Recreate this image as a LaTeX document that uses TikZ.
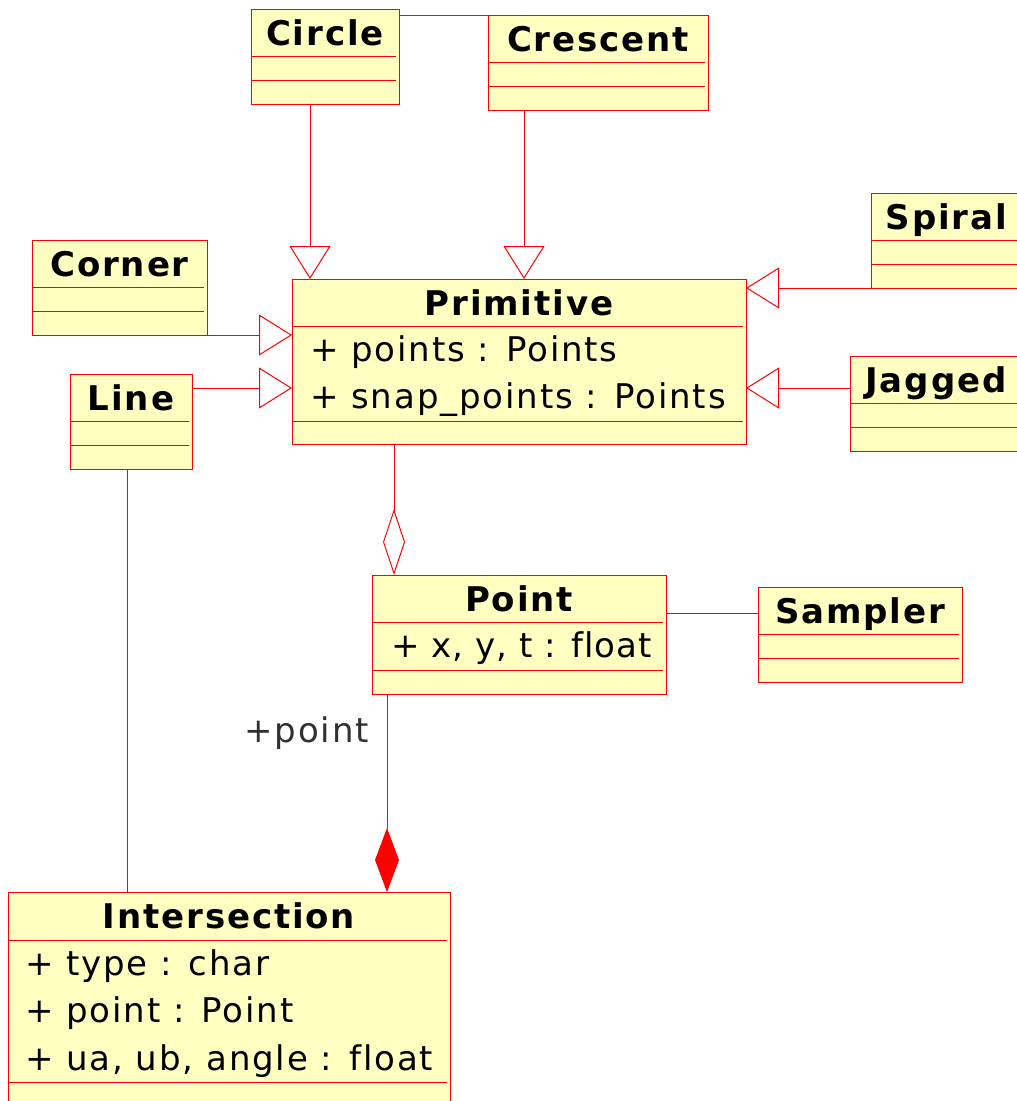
\documentclass[tikz,border=0pt]{standalone}
\usepackage{fontspec}
\setmainfont{DejaVu Sans}[LetterSpace=5.5, Ligatures=NoCommon]
\usetikzlibrary{arrows.meta,calc}

\definecolor{umlfill}{RGB}{255,255,194}
\definecolor{umlline}{RGB}{255,0,0}
\definecolor{labelgray}{RGB}{48,48,48}

\tikzset{
  classbox/.style={draw=umlline, fill=umlfill, line width=1pt, inner sep=0pt,
                   outer sep=0pt, anchor=north west},
  ctitle/.style={font=\fontsize{34}{40}\selectfont\bfseries, inner sep=0pt, anchor=base},
  cattr/.style={font=\fontsize{34}{40}\selectfont, inner sep=0pt, anchor=base west},
  rolelabel/.style={font=\fontsize{34}{40}\selectfont, text=labelgray, inner sep=0pt, anchor=base east},
  sepline/.style={draw=umlline, line width=1pt},
  rel/.style={draw=umlline, line width=1pt},
  inherit/.style={rel, -{Triangle[open, length=33pt, width=41pt]}},
  aggreg/.style={rel, -{Diamond[open, length=66pt, width=22pt]}},
  compos/.style={rel, -{Diamond[fill=umlline, length=64pt, width=24pt]}},
}

% class with empty attribute and operation compartments
\newcommand\emptyclass[5]{%
  \node[classbox, minimum width=#4pt, minimum height=95pt] (#1) at (#2,#3) {};
  \node[ctitle] (#1-title) at ($(#1.north)+(0,36)$) {#5};
  \draw[sepline] ($(#1.north west)+(0,47.5)$) -- ($(#1.north east)+(-3,47.5)$);
  \draw[sepline] ($(#1.north west)+(0,71)$) -- ($(#1.north east)+(-3,71)$);
}

\begin{document}
\begin{tikzpicture}[x=1pt,y=-1pt]
\clip (0,0) rectangle (1017,1101);
\fill[white] (0,0) rectangle (1017,1101);

% ---- simple classes ----
\emptyclass{circle}{251}{9}{148}{Circle}
\emptyclass{crescent}{488}{15}{220}{Crescent}
\emptyclass{corner}{32}{240}{175}{Corner}
\emptyclass{line}{70}{374}{122}{Line}
\emptyclass{spiral}{871}{193}{151}{Spiral}
\emptyclass{jagged}{850}{356}{172}{Jagged}
\emptyclass{sampler}{758}{587}{204}{Sampler}

% ---- Primitive ----
\node[classbox, minimum width=454pt, minimum height=165pt] (prim) at (292,279) {};
\node[ctitle] (prim-title) at ($(prim.north)+(0,36)$) {Primitive};
\draw[sepline] ($(prim.north west)+(0,47)$) -- ($(prim.north east)+(-3,47)$);
\node[cattr] (prim-a1) at ($(prim.north west)+(18,82)$) {+ points : Points};
\node[cattr] (prim-a2) at ($(prim.north west)+(18,129.5)$) {+ snap\_points : Points};
\draw[sepline] ($(prim.north west)+(0,142)$) -- ($(prim.north east)+(-3,142)$);

% ---- Point ----
\node[classbox, minimum width=294pt, minimum height=119pt] (point) at (372,575) {};
\node[ctitle] (point-title) at ($(point.north)+(0,36)$) {Point};
\draw[sepline] ($(point.north west)+(0,47)$) -- ($(point.north east)+(-3,47)$);
\node[cattr] (point-a1) at ($(point.north west)+(19,82)$) {\addfontfeature{LetterSpace=3}+ x, y, t : float};
\draw[sepline] ($(point.north west)+(0,95)$) -- ($(point.north east)+(-3,95)$);

% ---- Intersection ----
\node[classbox, minimum width=442pt, minimum height=214pt] (inter) at (8,892) {};
\node[ctitle] (inter-title) at ($(inter.north)+(0,36)$) {Intersection};
\draw[sepline] ($(inter.north west)+(0,48)$) -- ($(inter.north east)+(-3,48)$);
\node[cattr] (inter-a1) at ($(inter.north west)+(17,83)$) {+ type : char};
\node[cattr] (inter-a2) at ($(inter.north west)+(17,130.5)$) {+ point : Point};
\node[cattr] (inter-a3) at ($(inter.north west)+(17,178)$) {+ ua, ub, angle : float};
\draw[sepline] ($(inter.north west)+(0,190)$) -- ($(inter.north east)+(-3,190)$);

% ---- attachment points ----
\coordinate (pCircle) at ($(prim.north west)+(18,0)$);
\coordinate (pCrescent) at ($(prim.north west)+(232,0)$);
\coordinate (lineOut) at ($(line.north east)+(0,14)$);
\coordinate (jaggedIn) at ($(jagged.north west)+(0,32)$);
\coordinate (pAggr) at ($(point.north west)+(22,0)$);
\coordinate (samplerIn) at ($(sampler.north west)+(0,26)$);
\coordinate (pComp) at ($(inter.north west)+(379,0)$);
\coordinate (lineDown) at ($(line.south west)+(57,0)$);

% ---- connectors ----
\draw[rel] (circle.east |- crescent.north west) -- (crescent.north west);
\draw[inherit] (pCircle |- circle.south) -- (pCircle);
\draw[inherit] (pCrescent |- crescent.south) -- (pCrescent);
\draw[inherit] (corner.south east) -- (corner.south east -| prim.west);
\draw[inherit] (lineOut) -- (lineOut -| prim.west);
\draw[inherit] (spiral.south west) -- (spiral.south west -| prim.east);
\draw[inherit] (jaggedIn) -- (jaggedIn -| prim.east);
\draw[aggreg] (pAggr |- prim.south) -- (pAggr);
\draw[rel] (samplerIn) -- (samplerIn -| point.east);
\draw[compos] (pComp |- point.south) -- (pComp);
\draw[rel] (lineDown) -- (lineDown |- inter.north);

\node[rolelabel] (rolePoint) at (369,742) {+point};
\end{tikzpicture}
\end{document}
